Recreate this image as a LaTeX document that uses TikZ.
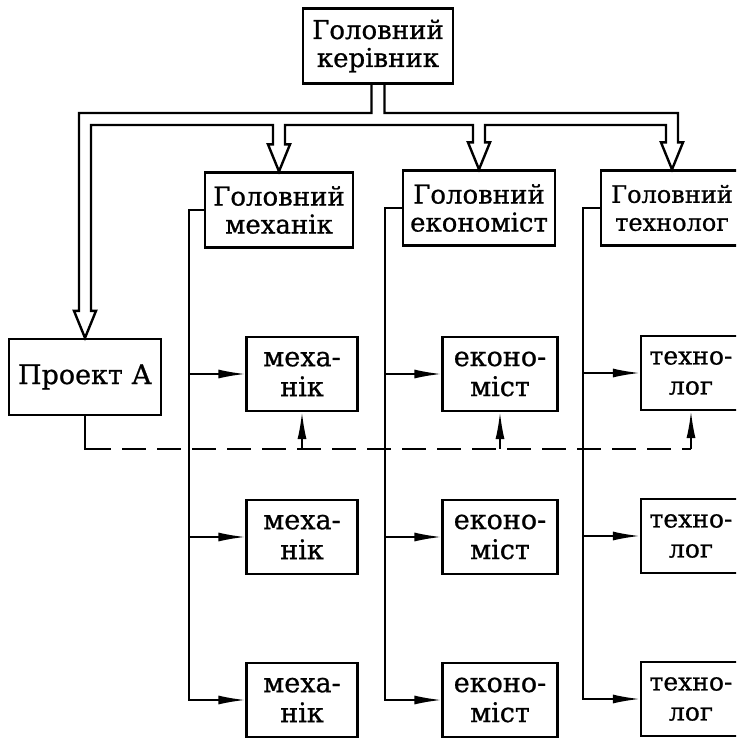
\documentclass[tikz,border=0pt]{standalone}
\usepackage{fontspec}
\setmainfont{DejaVu Serif}[BoldFont={DejaVu Serif}, BoldFeatures={FakeBold=0.8}]
\usetikzlibrary{arrows.meta}
\tikzset{
    every node/.style={draw, line width=2.2pt, align=center, inner sep=2pt,
    	font=\bfseries\fontsize{26}{28}\selectfont}
}
\tikzset{
    headbox/.style={minimum width=148pt, minimum height=75pt},
    staffbox/.style={minimum height=74pt, font=\bfseries\fontsize{27}{30}\selectfont}
}
\tikzset{
    link/.style={line width=1.8pt, -{Latex[length=27pt,width=9pt]}},
    pipe/.style={line width=2.4pt, line join=miter},
    dashline/.style={line width=2pt, dash pattern=on 24pt off 11pt}
}

\begin{document}
\begin{tikzpicture}[x=1pt, y=-1pt]
  \useasboundingbox (0,0) rectangle (736,738);
  \clip (0,0) rectangle (736,738);

  \node (gk) [headbox, minimum width=150pt] at (378,46) {Головний\\керівник};
  \node (hm) [headbox] at (279,210) {Головний\\механік};
  \node (he) [headbox, minimum width=152pt] at (479,208) {Головний\\економіст};
  \node (ht) [headbox, minimum width=142pt,
    font=\bfseries\fontsize{24}{28}\selectfont] at (672,208) {Головний\\технолог};
  \node (pa) [minimum width=152pt, minimum height=76pt,
    font=\bfseries\fontsize{27}{30}\selectfont] at (85,377) {Проект А};

  \node (m1) [staffbox, minimum width=111pt] at (302,374) {меха-\\нік};
  \node (m2) [staffbox, minimum width=111pt] at (302,537) {меха-\\нік};
  \node (m3) [staffbox, minimum width=111pt] at (302,700) {меха-\\нік};
  \node (e1) [staffbox, minimum width=115pt] at (500,374) {еконо-\\міст};
  \node (e2) [staffbox, minimum width=115pt] at (500,537) {еконо-\\міст};
  \node (e3) [staffbox, minimum width=115pt] at (500,700) {еконо-\\міст};
  \node (t1) [staffbox, minimum width=100pt, font=\bfseries\fontsize{25}{30}\selectfont]
    at (691,373) {техно-\\лог};
  \node (t2) [staffbox, minimum width=100pt, font=\bfseries\fontsize{25}{30}\selectfont]
    at (691,536) {техно-\\лог};
  \node (t3) [staffbox, minimum width=100pt, font=\bfseries\fontsize{25}{30}\selectfont]
    at (691,699) {техно-\\лог};

  % hollow pipe from the chief
  \coordinate (outer) at (0,113);
  \coordinate (inner) at (0,125);
  \draw[pipe] ([xshift=-6.5pt]gk.south) |- ([xshift=-6pt]pa.north |- outer)
    -- ([xshift=-6pt,yshift=27pt]pa.north) -- ++(-5,0) -- (pa.north)
    -- ++(11,-27) -- ++(-5,0) |- ([xshift=-6pt]hm.north |- inner)
    -- ([xshift=-6pt,yshift=27pt]hm.north) -- ++(-5,0) -- (hm.north)
    -- ++(11,-27) -- ++(-5,0) |- ([xshift=-6pt]he.north |- inner)
    -- ([xshift=-6pt,yshift=27pt]he.north) -- ++(-5,0) -- (he.north)
    -- ++(11,-27) -- ++(-5,0) |- ([xshift=-6pt]ht.north |- inner)
    -- ([xshift=-6pt,yshift=27pt]ht.north) -- ++(-5,0) -- (ht.north)
    -- ++(11,-27) -- ++(-5,0) |- ([xshift=6.5pt]gk.south |- outer)
    -- ([xshift=6.5pt]gk.south);

  % columns
  \draw[link] (hm.west) -- ++(-15,0) coordinate (mbar) |- (m3.west);
  \draw[link] (mbar |- m1.west) -- (m1.west);
  \draw[link] (mbar |- m2.west) -- (m2.west);
  \draw[link] (he.west) -- ++(-17,0) coordinate (ebar) |- (e3.west);
  \draw[link] (ebar |- e1.west) -- (e1.west);
  \draw[link] (ebar |- e2.west) -- (e2.west);
  \draw[link] (ht.west) -- ++(-17,0) coordinate (tbar) |- (t3.west);
  \draw[link] (tbar |- t1.west) -- (t1.west);
  \draw[link] (tbar |- t2.west) -- (t2.west);

  % project line
  \draw[dashline] (pa.south) -- ++(0,33) coordinate (dl) -- (dl -| t1.south);
  \draw[line width=2pt] (pa.south) |- ([xshift=24pt]dl);
  \draw[link] (dl -| m1.south) -- (m1.south);
  \draw[link] (dl -| e1.south) -- (e1.south);
  \draw[link] (dl -| t1.south) -- (t1.south);
\end{tikzpicture}
\end{document}
